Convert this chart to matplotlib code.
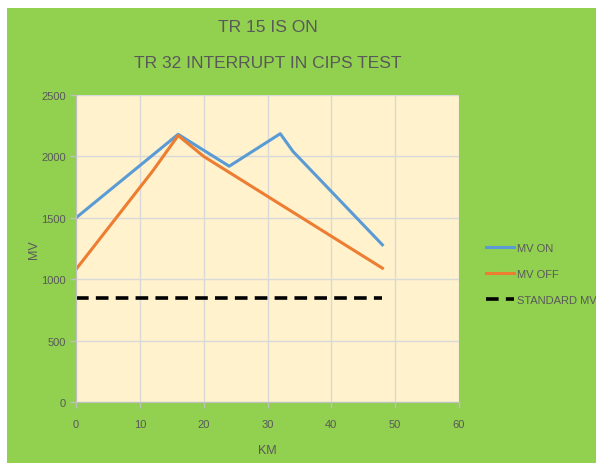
import matplotlib.pyplot as plt
from matplotlib.patches import Rectangle
from matplotlib.lines import Line2D

# Readings along the line
km_on = [0, 16, 24, 32, 34, 48]
mv_on = [1500, 2180, 1920, 2185, 2040, 1280]

km_off = [0, 12, 16, 20, 48]
mv_off = [1080, 1880, 2170, 2000, 1090]

km_std = [0, 48]
mv_std = [850, 850]

x_ticks = [0, 10, 20, 30, 40, 50, 60]
y_ticks = [0, 500, 1000, 1500, 2000, 2500]

GREEN = '#92d050'
CREAM = '#fff2cc'
TEXT = '#595959'

plt.rcParams['font.family'] = ['Liberation Sans', 'DejaVu Sans']

fig = plt.figure(figsize=(5.96, 4.64), dpi=100, facecolor='white')
fig.add_artist(Rectangle((7 / 596, 0), 1, 1 - 9 / 464, transform=fig.transFigure,
                         facecolor=GREEN, edgecolor='none', zorder=-10))

ax = fig.add_axes([76 / 596, 1 - 403 / 464, 383 / 596, 307 / 464])
ax.set_facecolor(CREAM)

ax.plot(km_on, mv_on, color='#5b9bd5', lw=2.2, solid_joinstyle='round', label='MV ON')
ax.plot(km_off, mv_off, color='#ed7d31', lw=2.2, solid_joinstyle='round', label='MV OFF')
ax.plot(km_std, mv_std, color='black', lw=2.6, ls=(0, (3.5, 2)), label='STANDARD MV')

ax.set_xlim(0, 60)
ax.set_ylim(0, 2500)
ax.set_xticks(x_ticks)
ax.set_yticks(y_ticks)
ax.grid(True, color='#d9d9d9', lw=1)
ax.set_axisbelow(True)
for side in ['top', 'right']:
    ax.spines[side].set_visible(False)
for side in ['left', 'bottom']:
    ax.spines[side].set_color('#bfbfbf')
ax.tick_params(colors='#bfbfbf', labelcolor=TEXT, labelsize=8, length=4, width=1)
ax.tick_params(axis='x', pad=8)

ax.set_xlabel('KM', color=TEXT, fontsize=9, labelpad=11)
ax.set_ylabel('MV', color=TEXT, fontsize=9, labelpad=1)

fig.text(268 / 596, 1 - 27 / 464, 'TR 15 IS ON', ha='center', va='center',
         color=TEXT, fontsize=12.5)
fig.text(268 / 596, 1 - 63 / 464, 'TR 32 INTERRUPT IN CIPS TEST', ha='center', va='center',
         color=TEXT, fontsize=12.5)

handles = [Line2D([], [], color='#5b9bd5', lw=2.2),
           Line2D([], [], color='#ed7d31', lw=2.2),
           Line2D([], [], color='black', lw=2.6, ls=(0, (3.5, 2)))]
fig.legend(handles, ['MV ON', 'MV OFF', 'STANDARD MV'], loc='center left',
           bbox_to_anchor=(476 / 596, 1 - 275 / 464), frameon=False,
           fontsize=8, labelcolor=TEXT, handlelength=2.5, handletextpad=0.3,
           labelspacing=1.45)

fig.savefig('out.png', dpi=100, facecolor=fig.get_facecolor())
